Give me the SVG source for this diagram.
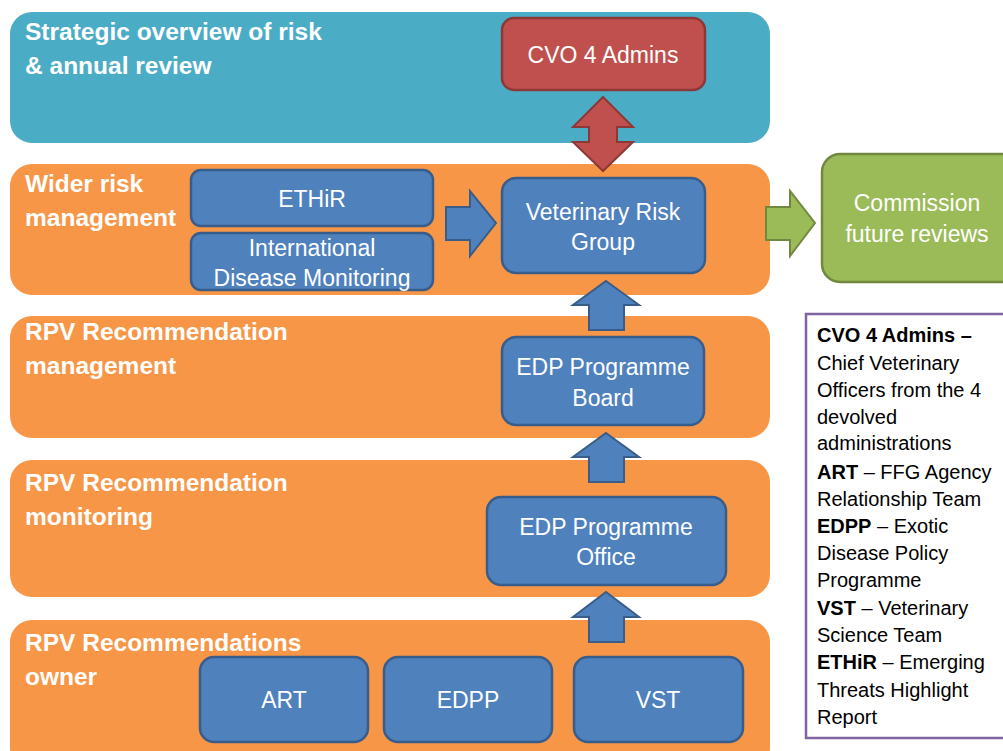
<svg xmlns="http://www.w3.org/2000/svg" width="1003" height="751" viewBox="0 0 1003 751">
  <style>
    .band-teal { fill: #4bacc6; }
    .band-orange { fill: #f79646; }
    .title { font-family: "Liberation Sans", Arial, sans-serif; font-weight: bold; font-size: 24.5px; fill: #ffffff; }
    .node { fill: #4f81bd; stroke: #385d8a; stroke-width: 2.5; }
    .node-red { fill: #c0504d; stroke: #8c3836; stroke-width: 2.5; }
    .node-green { fill: #9bbb59; stroke: #71893f; stroke-width: 2.5; }
    .label { font-family: "Liberation Sans", Arial, sans-serif; font-size: 23px; fill: #ffffff; text-anchor: middle; }
    .arrow-blue { fill: #4f81bd; stroke: #385d8a; stroke-width: 2; stroke-linejoin: miter; }
    .arrow-red { fill: #c0504d; stroke: #8c3836; stroke-width: 2; }
    .arrow-green { fill: #9bbb59; stroke: #71893f; stroke-width: 2; }
    .legend-box { fill: #ffffff; stroke: #8064a2; stroke-width: 2.5; }
    .legend { font-family: "Liberation Sans", Arial, sans-serif; font-size: 20px; fill: #000000; }
    .legend tspan.b { font-weight: bold; }
  </style>

  <!-- horizontal bands -->
  <g id="bands">
    <rect class="band-teal" x="10" y="12" width="760" height="131" rx="22"/>
    <rect class="band-orange" x="10" y="164" width="760" height="131" rx="22"/>
    <rect class="band-orange" x="10" y="316" width="760" height="122" rx="22"/>
    <rect class="band-orange" x="10" y="460" width="760" height="137" rx="22"/>
    <rect class="band-orange" x="10" y="620" width="760" height="150" rx="22"/>
    <text class="title" x="25" y="40">Strategic overview of risk</text>
    <text class="title" x="25" y="74">&amp; annual review</text>
    <text class="title" x="25" y="192">Wider risk</text>
    <text class="title" x="25" y="226">management</text>
    <text class="title" x="25" y="340">RPV Recommendation</text>
    <text class="title" x="25" y="374">management</text>
    <text class="title" x="25" y="491">RPV Recommendation</text>
    <text class="title" x="25" y="525">monitoring</text>
    <text class="title" x="25" y="651">RPV Recommendations</text>
    <text class="title" x="25" y="685">owner</text>
  </g>

  <!-- connectors -->
  <g id="connectors">
    <!-- CVO 4 Admins <-> Veterinary Risk Group -->
    <path class="arrow-red" d="M603,97 L633,127 L617,127 L617,142 L633,142 L603,171 L573,142 L589,142 L589,127 L573,127 Z"/>
    <!-- ETHiR / IDM -> Veterinary Risk Group -->
    <path class="arrow-blue" d="M446,207 L470,207 L470,191 L496,223 L470,256 L470,240 L446,240 Z"/>
    <!-- Veterinary Risk Group -> Commission future reviews -->
    <path class="arrow-green" d="M766,207 L790,207 L790,191 L815,223 L790,256 L790,240 L766,240 Z"/>
    <!-- EDP Programme Board -> Veterinary Risk Group -->
    <path class="arrow-blue" d="M606,281 L639,305 L624,305 L624,330 L589,330 L589,305 L573,305 Z"/>
    <!-- EDP Programme Office -> EDP Programme Board -->
    <path class="arrow-blue" d="M606,433 L639,457 L624,457 L624,482 L589,482 L589,457 L573,457 Z"/>
    <!-- owners -> EDP Programme Office -->
    <path class="arrow-blue" d="M606,592 L639,617 L624,617 L624,642 L589,642 L589,617 L573,617 Z"/>
  </g>

  <g id="cvo-4-admins">
    <rect class="node-red" x="502" y="18" width="203" height="72" rx="12"/>
    <text class="label" x="603" y="63">CVO 4 Admins</text>
  </g>

  <g id="ethir">
    <rect class="node" x="191" y="170" width="242" height="56" rx="10"/>
    <text class="label" x="312" y="207">ETHiR</text>
  </g>

  <g id="international-disease-monitoring">
    <rect class="node" x="191" y="233" width="242" height="57" rx="10"/>
    <text class="label" x="312" y="256">International</text>
    <text class="label" x="312" y="286">Disease Monitoring</text>
  </g>

  <g id="veterinary-risk-group">
    <rect class="node" x="502" y="178" width="203" height="95" rx="14"/>
    <text class="label" x="603" y="220">Veterinary Risk</text>
    <text class="label" x="603" y="250">Group</text>
  </g>

  <g id="commission-future-reviews">
    <rect class="node-green" x="822" y="154" width="200" height="128" rx="18"/>
    <text class="label" x="917" y="211">Commission</text>
    <text class="label" x="917" y="242">future reviews</text>
  </g>

  <g id="edp-programme-board">
    <rect class="node" x="502" y="337" width="202" height="88" rx="14"/>
    <text class="label" x="603" y="375">EDP Programme</text>
    <text class="label" x="603" y="406">Board</text>
  </g>

  <g id="edp-programme-office">
    <rect class="node" x="487" y="497" width="239" height="88" rx="14"/>
    <text class="label" x="606" y="535">EDP Programme</text>
    <text class="label" x="606" y="565">Office</text>
  </g>

  <g id="art">
    <rect class="node" x="200" y="657" width="168" height="85" rx="14"/>
    <text class="label" x="284" y="708">ART</text>
  </g>

  <g id="edpp">
    <rect class="node" x="384" y="657" width="168" height="85" rx="14"/>
    <text class="label" x="468" y="708">EDPP</text>
  </g>

  <g id="vst">
    <rect class="node" x="574" y="657" width="169" height="85" rx="14"/>
    <text class="label" x="658" y="708">VST</text>
  </g>

  <!-- abbreviations key -->
  <g id="legend">
    <rect class="legend-box" x="806" y="314" width="210" height="424"/>
    <text class="legend">
      <tspan x="817" y="342" class="b">CVO 4 Admins –</tspan>
      <tspan x="817" y="370">Chief Veterinary</tspan>
      <tspan x="817" y="397">Officers from the 4</tspan>
      <tspan x="817" y="424">devolved</tspan>
      <tspan x="817" y="450">administrations</tspan>
      <tspan x="817" y="479"><tspan class="b">ART</tspan> – FFG Agency</tspan>
      <tspan x="817" y="506">Relationship Team</tspan>
      <tspan x="817" y="533"><tspan class="b">EDPP</tspan> – Exotic</tspan>
      <tspan x="817" y="560">Disease Policy</tspan>
      <tspan x="817" y="587">Programme</tspan>
      <tspan x="817" y="615"><tspan class="b">VST</tspan> – Veterinary</tspan>
      <tspan x="817" y="642">Science Team</tspan>
      <tspan x="817" y="669"><tspan class="b">ETHiR</tspan> – Emerging</tspan>
      <tspan x="817" y="697">Threats Highlight</tspan>
      <tspan x="817" y="724">Report</tspan>
    </text>
  </g>
</svg>
